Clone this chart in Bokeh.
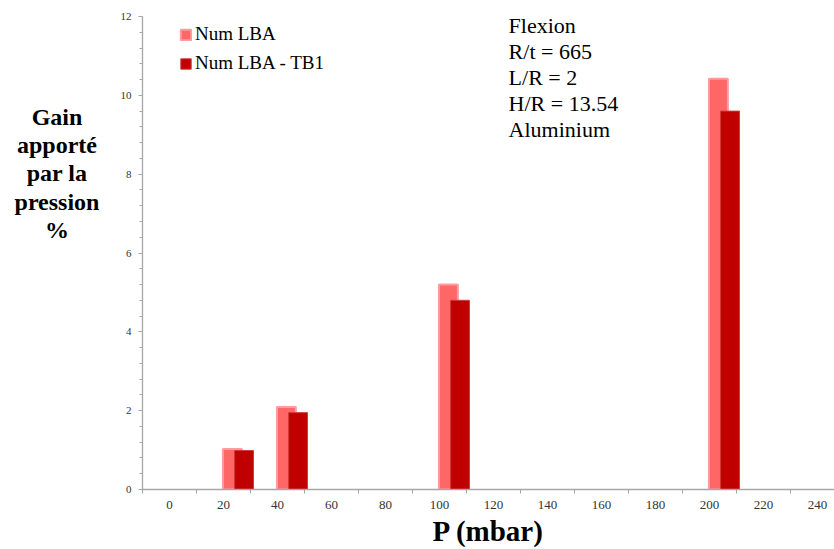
from bokeh.plotting import figure
from bokeh.layouts import row
from bokeh.models import (ColumnDataSource, Range1d, FixedTicker, SingleIntervalTicker,
                          Label, Legend, LegendItem)
from bokeh.transform import dodge
from bokeh.embed import file_html
from bokeh.resources import INLINE

# ---- data ----
pressures = [20, 40, 100, 200]
num_lba = [1.03, 2.09, 5.20, 10.42]
num_lba_tb1 = [0.99, 1.95, 4.80, 9.60]
x_ticks = [0, 20, 40, 60, 80, 100, 120, 140, 160, 180, 200, 220, 240]
x_bounds = [-10, 10, 30, 50, 70, 90, 110, 130, 150, 170, 190, 210, 230, 250]
series_names = ["Num LBA", "Num LBA - TB1"]
y_title_lines = ["Gain", "apporté", "par la", "pression", "%"]
x_title = "P (mbar)"
info_lines = ["Flexion", "R/t = 665", "L/R = 2", "H/R = 13.54", "Aluminium"]

FONT = "Liberation Serif"
LIGHT = "#FF6666"
DARK = "#C00000"

W, H = 834, 549
LEFT_W = 100
TOP, BOTTOM = 16, 59

# ---- left panel holding the y-axis title (pixel coordinates, frame 16..490) ----
tp = figure(width=LEFT_W, height=H, x_range=Range1d(0, LEFT_W),
            y_range=Range1d(H - BOTTOM, TOP),
            x_axis_type=None, y_axis_type=None, output_backend="svg", toolbar_location=None,
            min_border_left=0, min_border_right=0, min_border_top=TOP,
            min_border_bottom=BOTTOM)
tp.outline_line_color = None
for i, t in enumerate(y_title_lines):
    tp.add_layout(Label(x=56.5, y=116.5 + i * 28.35, text=t, text_font=FONT,
                        text_font_size="24px", text_font_style="bold", text_color="black",
                        text_baseline="alphabetic", text_align="center"))

# ---- main chart ----
src = ColumnDataSource(dict(P=pressures, a=num_lba, b=num_lba_tb1))

p = figure(width=W - LEFT_W, height=H, x_range=Range1d(-10, 246.3), y_range=Range1d(0, 12),
           output_backend="svg", toolbar_location=None,
           min_border_left=142 - LEFT_W, min_border_right=0, min_border_top=TOP,
           min_border_bottom=BOTTOM)
p.outline_line_color = None
p.xgrid.visible = False
p.ygrid.visible = False
p.background_fill_color = "white"

r1 = p.vbar(x=dodge("P", 3.3, range=p.x_range), top="a", width=7.0, source=src,
            fill_color=LIGHT, line_color="#FF9C9C", line_width=2)
r2 = p.vbar(x=dodge("P", 7.6, range=p.x_range), top="b", width=7.0, source=src,
            fill_color=DARK, line_color="#D03A3A", line_width=1)

# x axis
xa = p.xaxis[0]
xa.ticker = FixedTicker(ticks=x_ticks, minor_ticks=x_bounds)
xa.axis_line_color = "#A6A6A6"
xa.axis_line_width = 1.3
xa.major_tick_line_color = None
xa.major_tick_out = 0
xa.major_tick_in = 0
xa.minor_tick_line_color = "#A6A6A6"
xa.minor_tick_out = 4
xa.minor_tick_in = 0
xa.major_label_standoff = 7
xa.major_label_text_font = FONT
xa.major_label_text_font_size = "13px"
xa.major_label_text_color = "#333333"
xa.axis_label = x_title
xa.axis_label_text_font = FONT
xa.axis_label_text_font_size = "29px"
xa.axis_label_text_font_style = "bold"
xa.axis_label_text_color = "black"
xa.axis_label_standoff = 3

# y axis
ya = p.yaxis[0]
ya.ticker = SingleIntervalTicker(interval=2, num_minor_ticks=5)
ya.axis_line_color = "#A6A6A6"
ya.axis_line_width = 1.3
ya.major_tick_line_color = "#A6A6A6"
ya.major_tick_out = 4
ya.major_tick_in = 0
ya.minor_tick_line_color = "#A6A6A6"
ya.minor_tick_out = 3
ya.minor_tick_in = 0
ya.major_label_standoff = 7
ya.major_label_text_font = FONT
ya.major_label_text_font_size = "11px"
ya.major_label_text_color = "#333333"

# legend
legend = Legend(items=[LegendItem(label=series_names[0], renderers=[r1]),
                       LegendItem(label=series_names[1], renderers=[r2])],
                location=(37, 415), orientation="vertical",
                label_text_font=FONT, label_text_font_size="19px", label_text_color="black",
                glyph_width=13, glyph_height=13, label_standoff=3, spacing=7,
                padding=0, margin=0, border_line_alpha=0, background_fill_alpha=0)
p.add_layout(legend)

# info text
for i, t in enumerate(info_lines):
    p.add_layout(Label(x=125.6, y=11.76 - i * 0.658, text=t, text_font=FONT,
                       text_font_size="22px", text_color="black",
                       text_baseline="alphabetic", text_align="left"))

layout = row(tp, p, spacing=0)
open("out.html", "w").write(file_html(layout, INLINE))
